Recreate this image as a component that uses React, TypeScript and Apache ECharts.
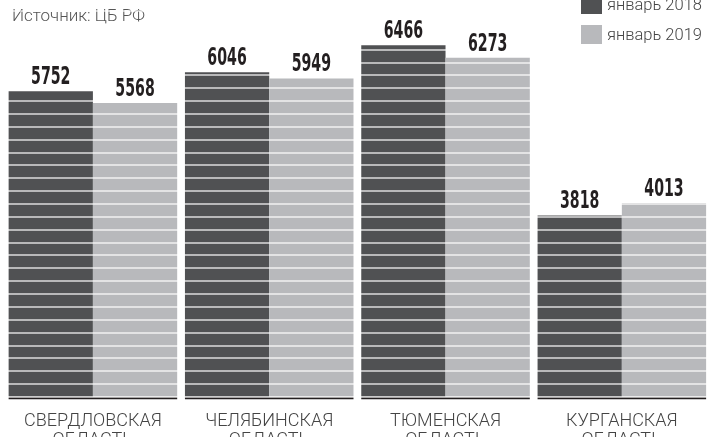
import { useEffect, useRef } from "react";
import * as echarts from "echarts";

const categories = [
  "СВЕРДЛОВСКАЯ\nОБЛАСТЬ",
  "ЧЕЛЯБИНСКАЯ\nОБЛАСТЬ",
  "ТЮМЕНСКАЯ\nОБЛАСТЬ",
  "КУРГАНСКАЯ\nОБЛАСТЬ",
];
const seriesNames = ["январь 2018", "январь 2019"];
const jan2018 = [5752, 6046, 6466, 3818];
const jan2019 = [5568, 5949, 6273, 4013];
const sourceText = "Источник: ЦБ РФ";

const DARK = "#505153";
const LIGHT = "#b8b9bc";
const BLACK = "#231f20";
const CAT_GAP = 0.044;

function labelSeries(values: number[], side: number) {
  return {
    type: "custom",
    xAxisIndex: 2,
    yAxisIndex: 2,
    z: 5,
    data: values.map((v, i) => [i, v]),
    renderItem: (_params: any, api: any) => {
      const cat = api.value(0);
      const v = api.value(1);
      const pt = api.coord([cat, v]);
      const bw = api.size([1, 0])[0];
      const groupW = bw * (1 - CAT_GAP);
      return {
        type: "text",
        x: pt[0] + (side * groupW) / 4,
        y: pt[1] - 3,
        scaleX: 0.63,
        style: {
          text: String(v),
          x: 0,
          y: 0,
          align: "center",
          verticalAlign: "bottom",
          fontSize: 25,
          fontWeight: "bold",
          fontFamily: "'DejaVu Sans Condensed', 'DejaVu Sans', sans-serif",
          fill: BLACK,
        },
      };
    },
  };
}

export default function App() {
  const ref = useRef<HTMLDivElement>(null);
  useEffect(() => {
    const chart = echarts.init(ref.current!, null, { renderer: "svg" });
    const gridPos = { left: 4.75, right: 1, top: 10.9, bottom: 40.3 };
    chart.setOption({
      animation: false,
      textStyle: { fontFamily: "Roboto" },
      legend: {
        data: seriesNames,
        orient: "vertical",
        left: 581,
        top: -5,
        padding: 0,
        itemWidth: 21,
        itemHeight: 19,
        itemGap: 11,
        icon: "rect",
        textStyle: { fontSize: 16.5, color: "#444", fontWeight: 300, fontFamily: "Roboto" },
      },
      graphic: [
        {
          type: "text",
          left: 12,
          top: 6,
          style: { text: sourceText, fontSize: 17, fontWeight: 300, fill: "#555", fontFamily: "Roboto" },
        },
      ],
      grid: [
        gridPos,
        { left: gridPos.left, right: gridPos.right, top: 397, height: 8.5 },
        gridPos,
      ],
      xAxis: [
        { type: "category", data: categories, gridIndex: 0, axisLine: { show: false }, axisTick: { show: false }, axisLabel: { show: false } },
        {
          type: "category",
          data: categories,
          gridIndex: 1,
          axisLine: { show: false },
          axisTick: { show: false },
          axisLabel: { interval: 0, margin: 11, fontSize: 18, lineHeight: 19, color: "#444", fontWeight: 300, fontFamily: "Roboto" },
        },
        { type: "category", data: categories, gridIndex: 2, show: false },
      ],
      yAxis: [
        {
          type: "value",
          gridIndex: 0,
          min: 1000,
          max: 7000,
          interval: 200,
          z: 3,
          axisLabel: { show: false },
          axisLine: { show: false },
          axisTick: { show: false },
          splitLine: { show: true, lineStyle: { color: "rgba(255,255,255,0.6)", width: 2 } },
        },
        { type: "value", gridIndex: 1, min: 0, max: 1, show: false, splitLine: { show: false } },
        { type: "value", gridIndex: 2, min: 1000, max: 7000, interval: 200, show: false, splitLine: { show: false } },
      ],
      series: [
        { name: seriesNames[0], type: "bar", data: jan2018, xAxisIndex: 0, yAxisIndex: 0, barGap: "0%", barCategoryGap: "4.4%", itemStyle: { color: DARK }, z: 2 },
        { name: seriesNames[1], type: "bar", data: jan2019, xAxisIndex: 0, yAxisIndex: 0, barGap: "0%", barCategoryGap: "4.4%", itemStyle: { color: LIGHT }, z: 2 },
        { name: "base", type: "bar", data: categories.map(() => 1), xAxisIndex: 1, yAxisIndex: 1, barCategoryGap: "4.4%", itemStyle: { color: BLACK } },
        labelSeries(jan2018, -1),
        labelSeries(jan2019, 1),
      ],
    });
    return () => chart.dispose();
  }, []);
  return <div ref={ref} style={{ width: 711, height: 437, position: "fixed", left: 0, top: 0 }} />;
}
